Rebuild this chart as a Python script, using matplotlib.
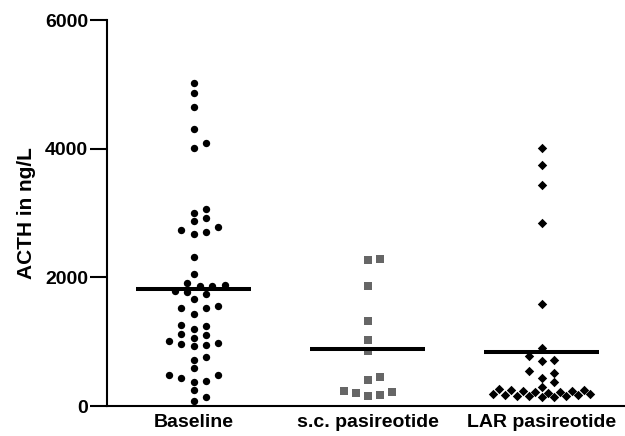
import numpy as np
import matplotlib
matplotlib.use("Agg")
import matplotlib.pyplot as plt

plt.rcParams["font.family"] = ["Liberation Sans", "DejaVu Sans"]
plt.rcParams["font.weight"] = "bold"

categories = ["Baseline", "s.c. pasireotide", "LAR pasireotide"]

baseline = [5019, 4868, 4656, 4310, 4088, 4011, 3065, 3003, 2926, 2884,
            2780, 2744, 2703, 2677, 2310, 2057, 1912, 1886, 1860, 1860,
            1788, 1772, 1736, 1659, 1550, 1524, 1519, 1437, 1256, 1245,
            1204, 1127, 1105, 1054, 1008, 981, 961, 946, 930, 755,
            713, 584, 485, 485, 434, 388, 377, 243, 135, 78]
sc_pasireotide = [2289, 2274, 1871, 1328, 1034, 863, 445, 398,
                  228, 212, 197, 171, 155]
lar_pasireotide = [4011, 3742, 3442, 2842, 1586, 904, 775, 713, 698,
                   538, 507, 434, 367, 290,
                   262, 255, 248, 240, 232, 222, 212, 200, 190, 182,
                   172, 165, 158, 152, 148, 145, 142]
mean_lines = [1824, 884, 832]

yticks = [0, 2000, 4000, 6000]


def swarm_offsets(ax, values, slot, wx, wy, half_width):
    # simple greedy beeswarm in pixel space, slots on a grid
    ypx = ax.transData.transform(np.column_stack([np.zeros(len(values)), values]))[:, 1]
    nslot = int(half_width // slot)
    cands = [0.0]
    for k in range(1, nslot + 1):
        cands += [k * slot, -k * slot]
    offs = np.zeros(len(values))
    placed = []
    for i in np.argsort(values, kind="stable"):
        y = ypx[i]
        chosen = None
        for c in cands:
            if all(((c - px) / wx) ** 2 + ((y - py) / wy) ** 2 >= 1 for px, py in placed):
                chosen = c
                break
        if chosen is None:
            # column full: take the least crowded slot
            best = -1
            for c in cands:
                d = min(((c - px) / wx) ** 2 + ((y - py) / wy) ** 2 for px, py in placed)
                if d > best + 1e-9:
                    best, chosen = d, c
        offs[i] = chosen
        placed.append((chosen, y))
    x0 = ax.transData.transform([[0, 0], [1, 0]])[:, 0]
    return offs / (x0[1] - x0[0])


fig = plt.figure(figsize=(6.25, 4.36), dpi=100)
ax = fig.add_axes([0.1707, 0.0688, 0.835, 0.885])
ax.set_xlim(-0.5, 2.5)
ax.set_ylim(0, 6000)

groups = [baseline, sc_pasireotide, lar_pasireotide]
styles = [
    dict(marker="o", color="black", s=5.3 ** 2, slot=6.2, wx=12.4, wy=7.5, hw=40),
    dict(marker="s", color="#666666", s=6.2 ** 2, slot=6.0, wx=12.0, wy=8.5, hw=28),
    dict(marker="D", color="black", s=4.8 ** 2, slot=6.1, wx=12.2, wy=9.0, hw=50),
]

for i, (vals, st) in enumerate(zip(groups, styles)):
    off = swarm_offsets(ax, np.array(vals, dtype=float), st["slot"], st["wx"], st["wy"], st["hw"])
    ax.scatter(i + off, vals, marker=st["marker"], color=st["color"], s=st["s"],
               linewidths=0, clip_on=False, zorder=3)
    ax.hlines(mean_lines[i], i - 0.33, i + 0.33, color="black", linewidth=2.9, zorder=4)

ax.set_xticks(range(len(categories)))
ax.set_xticklabels(categories, fontsize=14, fontweight="bold")
ax.set_yticks(yticks)
ax.set_yticklabels([str(t) for t in yticks], fontsize=14, fontweight="bold")
ax.tick_params(axis="x", length=0, pad=6)
ax.tick_params(axis="y", length=12, width=1.5, pad=1.5)
ax.set_ylabel("ACTH in ng/L", fontsize=15, fontweight="bold", labelpad=6)

for side in ["top", "right"]:
    ax.spines[side].set_visible(False)
for side in ["left", "bottom"]:
    ax.spines[side].set_linewidth(1.5)

fig.savefig("out.png", dpi=100)
